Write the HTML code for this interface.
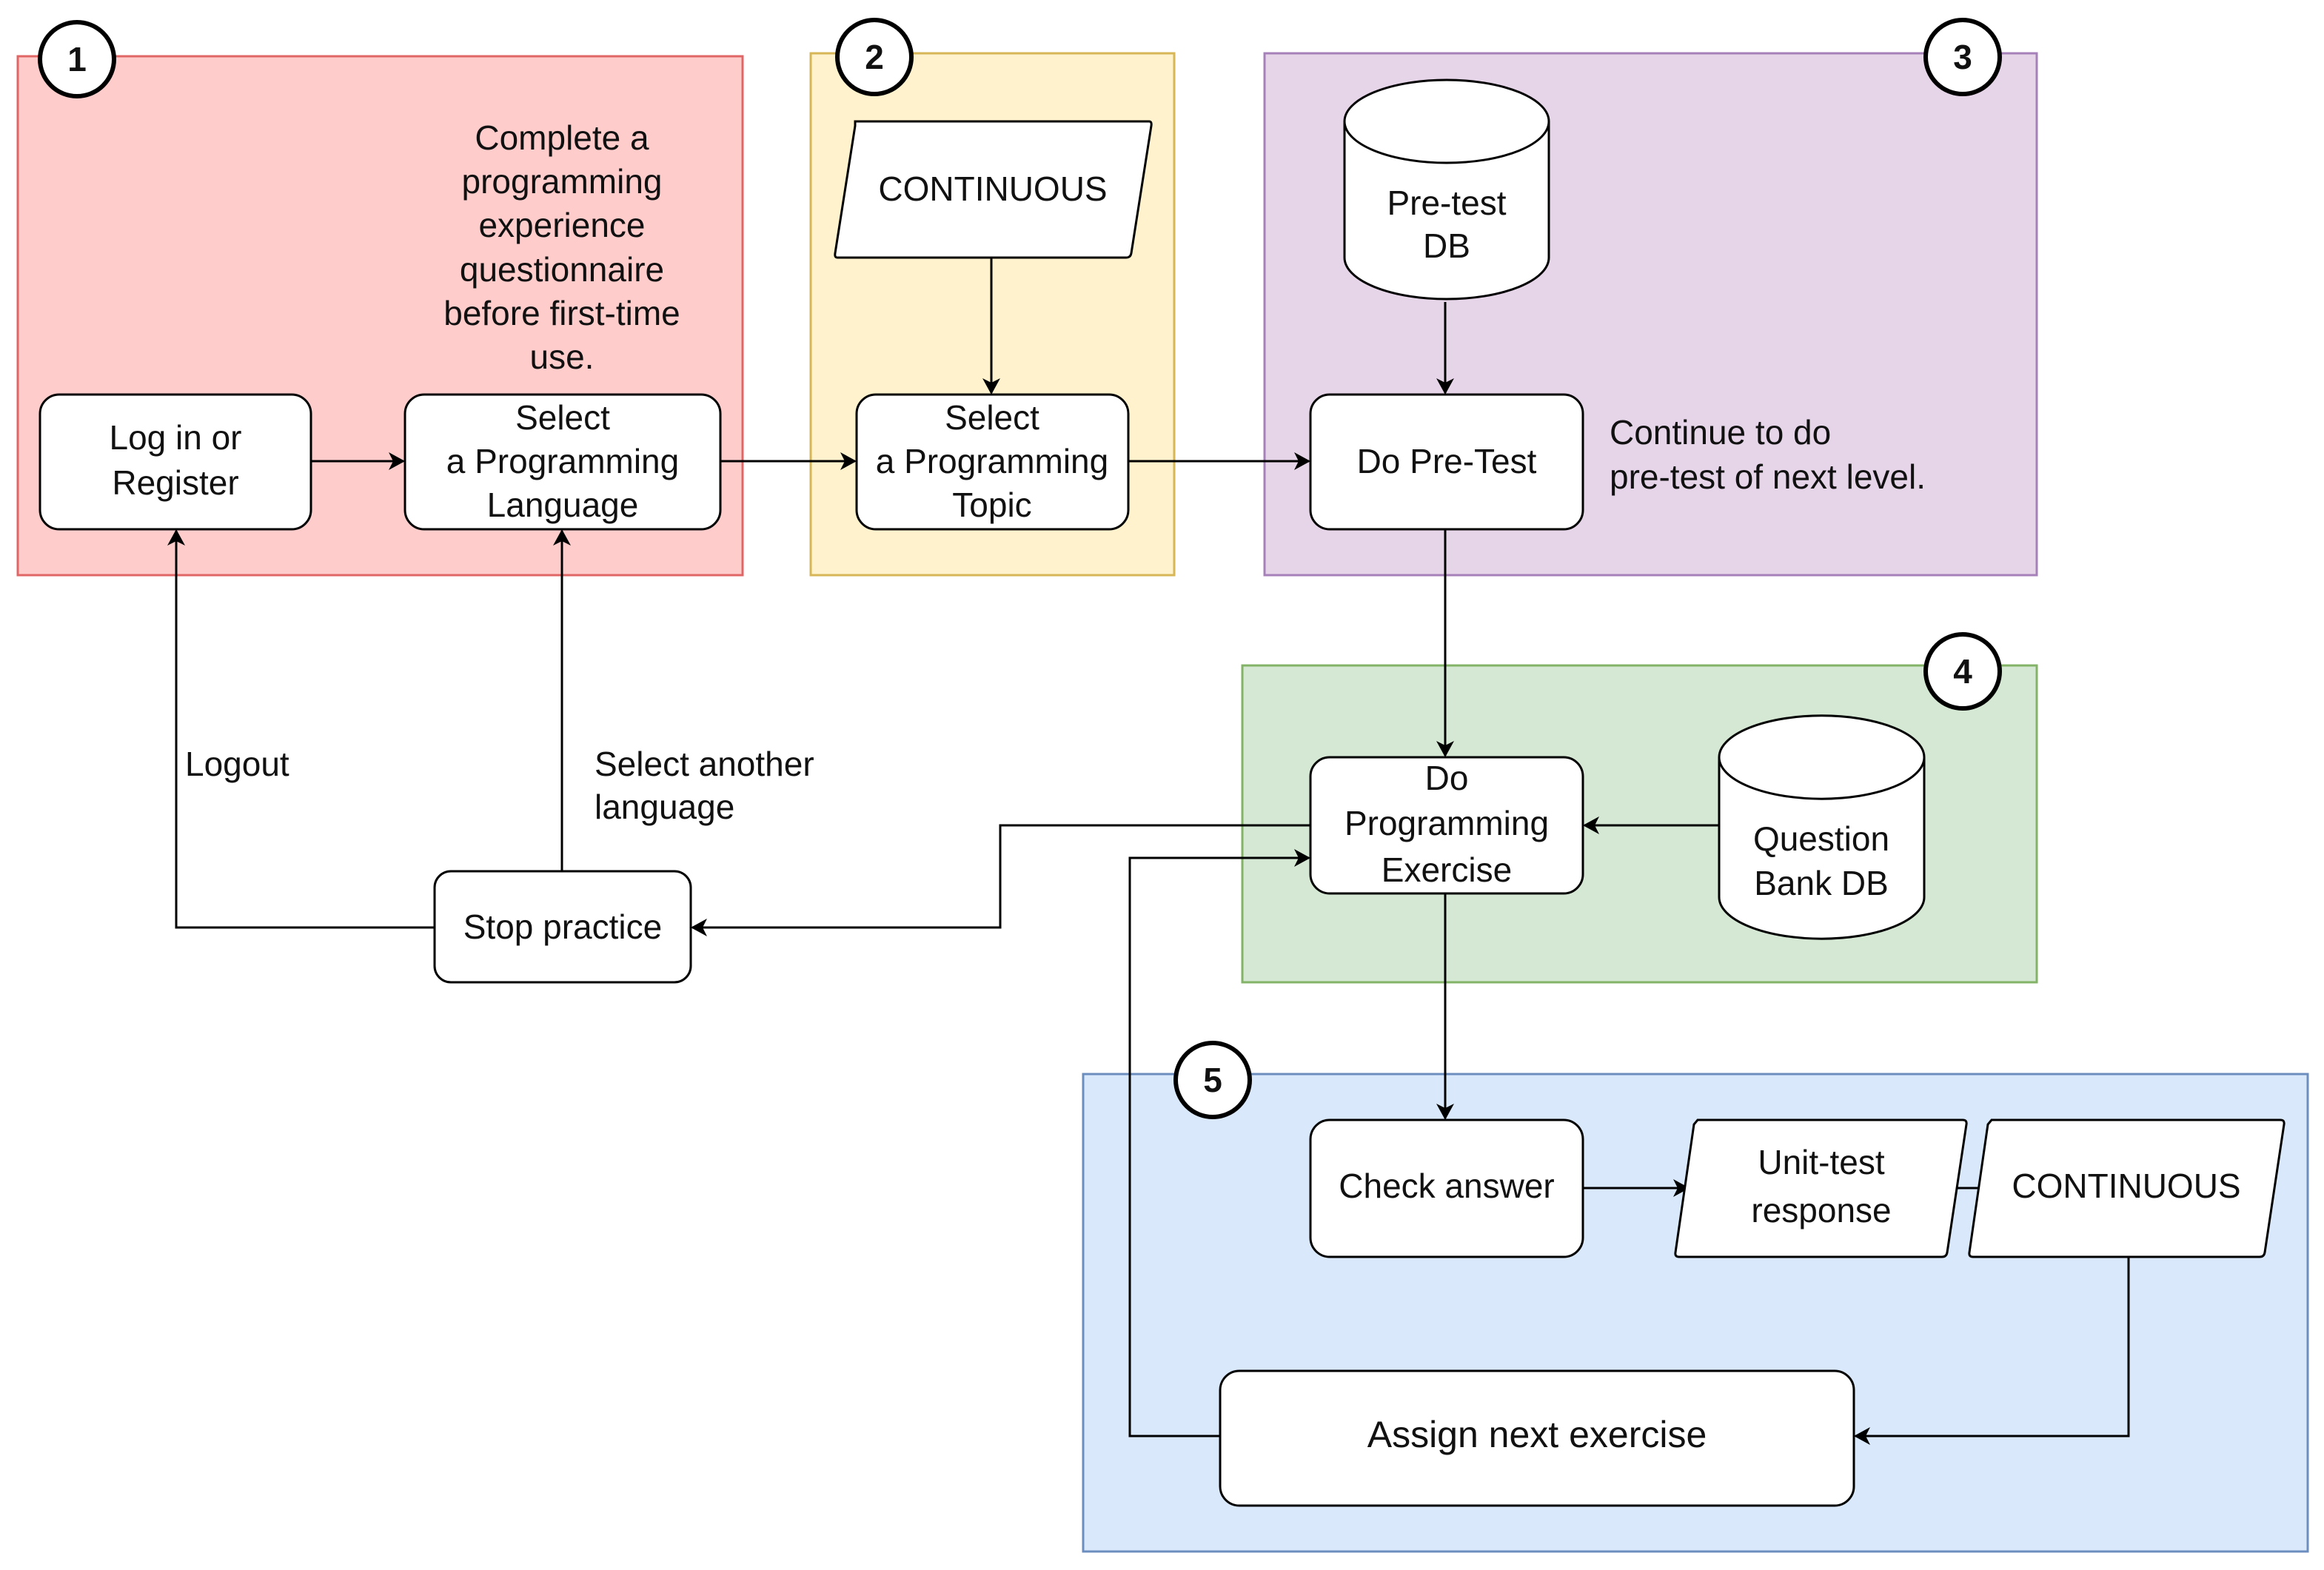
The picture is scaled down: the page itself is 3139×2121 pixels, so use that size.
<!DOCTYPE html>
<html><head><meta charset="utf-8"><style>
html,body{margin:0;padding:0;background:#fff;}
svg{display:block;}
text{font-family:"Liberation Sans",Arial,sans-serif;font-size:46px;fill:#111;}
</style></head><body>
<svg width="3139" height="2121" viewBox="0 0 3139 2121" xmlns="http://www.w3.org/2000/svg">
<defs>
<marker id="a" markerWidth="12" markerHeight="12" refX="10" refY="6" orient="auto" markerUnits="userSpaceOnUse">
<path d="M0,0 L12,6 L0,12 L3,6 Z" fill="#000"/>
</marker>
<marker id="b" markerWidth="24" markerHeight="24" refX="20" refY="12" orient="auto" markerUnits="userSpaceOnUse">
<path d="M0,0 L22,12 L0,24 L6,12 Z" fill="#000"/>
</marker>
</defs>
<!-- groups -->
<rect x="24" y="76" width="979" height="701" fill="#ffcccc" stroke="#e06666" stroke-width="3"/>
<rect x="1095" y="72" width="491" height="705" fill="#fff2cc" stroke="#d6b656" stroke-width="3"/>
<rect x="1708" y="72" width="1043" height="705" fill="#e6d5e8" stroke="#a680b8" stroke-width="3"/>
<rect x="1678" y="899" width="1073" height="428" fill="#d5e8d4" stroke="#82b366" stroke-width="3"/>
<rect x="1463" y="1451" width="1654" height="645" fill="#dae8fc" stroke="#6c8ebf" stroke-width="3"/>

<g stroke="#000" stroke-width="3" fill="none">
<line x1="420" y1="623" x2="545" y2="623" marker-end="url(#b)"/>
<line x1="973" y1="623" x2="1155" y2="623" marker-end="url(#b)"/>
<line x1="1524" y1="623" x2="1768" y2="623" marker-end="url(#b)"/>
<line x1="1339" y1="348" x2="1339" y2="531" marker-end="url(#b)"/>
<line x1="1952" y1="408" x2="1952" y2="531" marker-end="url(#b)"/>
<line x1="1952" y1="715" x2="1952" y2="1021" marker-end="url(#b)"/>
<line x1="2322" y1="1115" x2="2140" y2="1115" marker-end="url(#b)"/>
<polyline points="1770,1115 1351,1115 1351,1253 935,1253" marker-end="url(#b)"/>
<polyline points="587,1253 238,1253 238,717" marker-end="url(#b)"/>
<line x1="759" y1="1177" x2="759" y2="717" marker-end="url(#b)"/>
<line x1="1952" y1="1207" x2="1952" y2="1511" marker-end="url(#b)"/>
<line x1="2138" y1="1605" x2="2280" y2="1605" marker-end="url(#b)"/>
<line x1="2630" y1="1605" x2="2685" y2="1605"/>
<polyline points="2875,1698 2875,1940 2506,1940" marker-end="url(#b)"/>
<polyline points="1648,1940 1526,1940 1526,1159 1768,1159" marker-end="url(#b)"/>
</g>

<g fill="#fff" stroke="#000" stroke-width="3">
<rect x="54" y="533" width="366" height="182" rx="26"/>
<rect x="547" y="533" width="426" height="182" rx="26"/>
<rect x="1157" y="533" width="367" height="182" rx="26"/>
<path d="M1155,164 L1552,164 Q1556,164 1555,170 L1528,342 Q1527,348 1521,348 L1131,348 Q1127,348 1128,342 L1155,170 Z"/>
<path d="M1816,164 L1816,348 A138,56 0 0 0 2092,348 L2092,164 A138,56 0 0 0 1816,164 Z"/>
<path d="M1816,164 A138,56 0 0 0 2092,164"/>
<rect x="1770" y="533" width="368" height="182" rx="26"/>
<rect x="1770" y="1023" width="368" height="184" rx="26"/>
<path d="M2322,1023 L2322,1212 A138,56 0 0 0 2599,1212 L2599,1023 A138,56 0 0 0 2322,1023 Z"/>
<path d="M2322,1023 A138,56 0 0 0 2599,1023"/>
<rect x="587" y="1177" width="346" height="150" rx="22"/>
<rect x="1770" y="1513" width="368" height="185" rx="26"/>
<path d="M2293,1513 L2651,1513 Q2657,1513 2656,1519 L2630,1692 Q2629,1698 2623,1698 L2268,1698 Q2262,1698 2263,1692 L2288,1519 Z"/>
<path d="M2690,1513 L3080,1513 Q3086,1513 3085,1519 L3059,1692 Q3058,1698 3052,1698 L2665,1698 Q2659,1698 2660,1692 L2685,1519 Z"/>
<rect x="1648" y="1852" width="856" height="182" rx="26"/>
</g>

<g fill="#fff" stroke="#000" stroke-width="6">
<circle cx="104" cy="80" r="50"/>
<circle cx="1181" cy="77" r="50"/>
<circle cx="2651" cy="77" r="50"/>
<circle cx="2651" cy="907" r="50"/>
<circle cx="1638" cy="1459" r="50"/>
</g>
<g text-anchor="middle" style="font-weight:bold">
<text x="104" y="96">1</text>
<text x="1181" y="93">2</text>
<text x="2651" y="93">3</text>
<text x="2651" y="923">4</text>
<text x="1638" y="1475">5</text>
</g>

<g text-anchor="middle">
<text x="759" y="202">Complete a</text>
<text x="759" y="261">programming</text>
<text x="759" y="320">experience</text>
<text x="759" y="380">questionnaire</text>
<text x="759" y="439">before first-time</text>
<text x="759" y="498">use.</text>
<text x="237" y="607">Log in or</text>
<text x="237" y="668">Register</text>
<text x="760" y="580">Select</text>
<text x="760" y="639">a Programming</text>
<text x="760" y="698">Language</text>
<text x="1340" y="580">Select</text>
<text x="1340" y="639">a Programming</text>
<text x="1340" y="698">Topic</text>
<text x="1341" y="271">CONTINUOUS</text>
<text x="1954" y="290">Pre-test</text>
<text x="1954" y="348">DB</text>
<text x="1954" y="639">Do Pre-Test</text>
<text x="1954" y="1067">Do</text>
<text x="1954" y="1128">Programming</text>
<text x="1954" y="1191">Exercise</text>
<text x="2460" y="1149">Question</text>
<text x="2460" y="1209">Bank DB</text>
<text x="760" y="1268">Stop practice</text>
<text x="1954" y="1618">Check answer</text>
<text x="2460" y="1586">Unit-test</text>
<text x="2460" y="1651">response</text>
<text x="2872" y="1618">CONTINUOUS</text>
<text x="2076" y="1955" style="font-size:50px">Assign next exercise</text>
</g>
<text x="2174" y="600">Continue to do</text>
<text x="2174" y="660">pre-test of next level.</text>
<text x="250" y="1048">Logout</text>
<text x="803" y="1048">Select another</text>
<text x="803" y="1106">language</text>
</svg>
</body></html>
